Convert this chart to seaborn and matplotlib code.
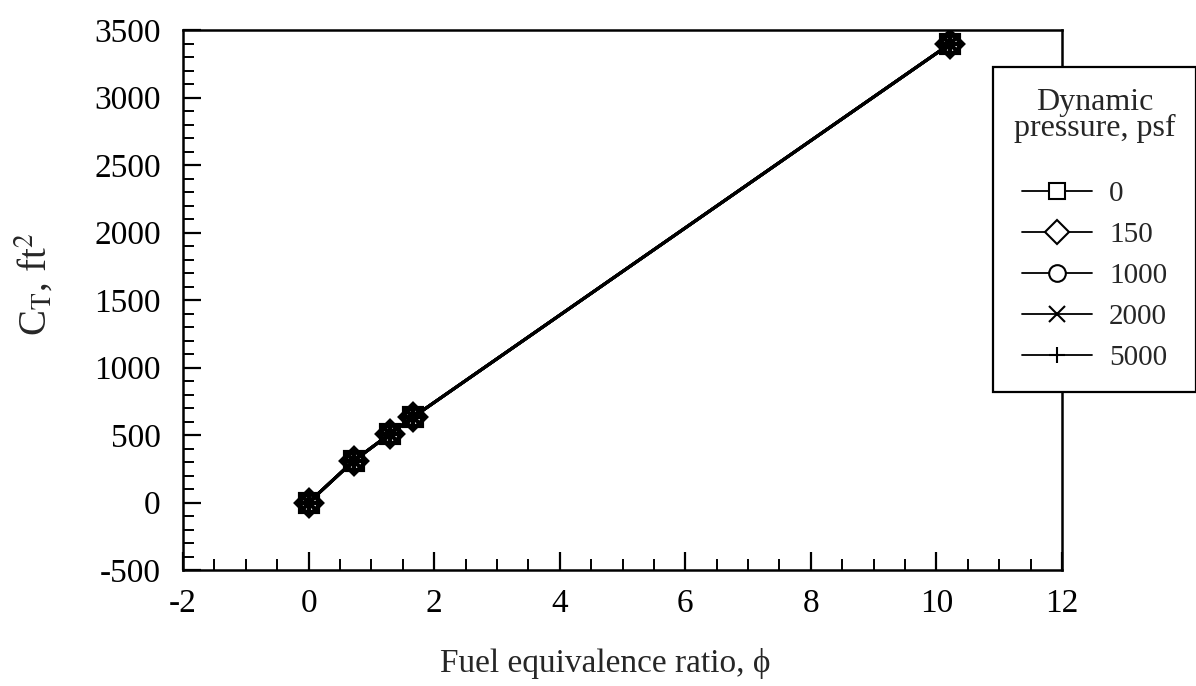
import matplotlib
matplotlib.use("Agg")
import matplotlib.pyplot as plt
from matplotlib.lines import Line2D
from matplotlib.ticker import MultipleLocator
import seaborn as sns
import pandas as pd

# ---- data ----
phi_values = [0.0, 0.72, 1.30, 1.67, 10.22]
ct_q0 = [0, 310, 510, 635, 3400]
ct_q150 = [0, 310, 510, 635, 3400]
ct_q1000 = [0, 310, 510, 635, 3400]
ct_q2000 = [0, 310, 510, 635, 3400]
ct_q5000 = [0, 310, 510, 635, 3400]
pressure_labels = ["0", "150", "1000", "2000", "5000"]
x_ticks = [-2, 0, 2, 4, 6, 8, 10, 12]
y_ticks = [-500, 0, 500, 1000, 1500, 2000, 2500, 3000, 3500]

series = [ct_q0, ct_q150, ct_q1000, ct_q2000, ct_q5000]

sns.set_theme(style="white")
plt.rcParams["font.family"] = ["Liberation Serif", "DejaVu Serif"]
plt.rcParams["mathtext.fontset"] = "stix"

fig = plt.figure(figsize=(11.96, 6.86), dpi=100)
ax = fig.add_axes([0.153, 0.169, 0.735, 0.787])

marker_map = {"0": "s", "150": "D", "1000": "o", "2000": "x", "5000": "+"}

for lab, vals in zip(pressure_labels, series):
    df = pd.DataFrame({"phi": phi_values, "ct": vals})
    sns.lineplot(data=df, x="phi", y="ct", color="black", ax=ax,
                 linewidth=2.2, marker=marker_map[lab], markersize=13,
                 markerfacecolor="none", markeredgecolor="black",
                 markeredgewidth=3.0, legend=False, estimator=None, sort=False)

ax.set_xlim(-2, 12)
ax.set_ylim(-500, 3500)
ax.set_xticks(x_ticks)
ax.set_yticks(y_ticks)
ax.set_xticklabels([str(t) for t in x_ticks])
ax.set_yticklabels([str(t) for t in y_ticks])
ax.xaxis.set_minor_locator(MultipleLocator(0.5))
ax.yaxis.set_minor_locator(MultipleLocator(100))
ax.tick_params(axis="both", which="both", direction="in", top=False, right=False,
               bottom=True, left=True, colors="black")
ax.tick_params(axis="both", which="major", length=13, width=1.6, labelsize=24)
ax.tick_params(axis="both", which="minor", length=8, width=1.4)
ax.tick_params(axis="x", which="major", pad=13)
ax.tick_params(axis="y", which="major", pad=16)

for sp in ax.spines.values():
    sp.set_visible(True)
    sp.set_color("black")
    sp.set_linewidth(1.8)

ax.set_xlabel("Fuel equivalence ratio, \u03d5", fontsize=24,
              family=["Liberation Serif", "DejaVu Serif"])
ax.xaxis.set_label_coords(0.48, -0.145)
ax.set_ylabel("C$_{\\mathrm{T}}$, ft$^{2}$", fontsize=28)
ax.yaxis.set_label_coords(-0.145, 0.53)

handles = [Line2D([0], [0], color="black", linewidth=1.3, marker=marker_map[p],
                  markersize=12, markerfacecolor="white", markeredgecolor="black",
                  markeredgewidth=1.5) for p in pressure_labels]
leg = fig.legend(handles, pressure_labels, title="Dynamic\npressure, psf",
                 loc="upper left", bbox_to_anchor=(0.830, 0.902),
                 bbox_transform=fig.transFigure, fontsize=21, title_fontsize=23,
                 frameon=True, fancybox=False, shadow=False, framealpha=1,
                 handlelength=2.4, handletextpad=0.6, labelspacing=0.5,
                 borderpad=0.72, borderaxespad=0)
leg.get_frame().set_edgecolor("black")
leg.get_frame().set_linewidth(1.6)
leg.get_title().set_multialignment("center")
leg.get_title().set_linespacing(0.85)
leg._legend_box.sep = 27

fig.savefig("out.png", dpi=100, facecolor="white")
